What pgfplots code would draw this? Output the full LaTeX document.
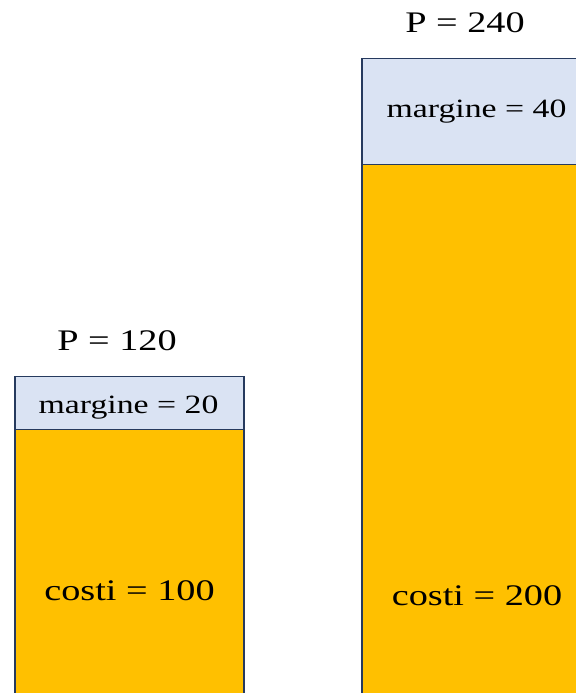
\documentclass[border=0pt]{standalone}
\usepackage{fontspec}
\setmainfont{Liberation Serif}
\usepackage{graphicx}
\usepackage{pgfplots}
\pgfplotsset{compat=1.18}

\definecolor{costo}{HTML}{FFC000}
\definecolor{margine}{HTML}{DAE3F3}
\definecolor{bordo}{HTML}{263A5E}

\newcommand{\etichetta}[2]{\fontsize{#1}{#1}\selectfont\scalebox{1.28}[1]{#2}}

\begin{document}
\begin{tikzpicture}
\begin{axis}[
    scale only axis,
    width=576bp, height=694.6bp,
    xmin=0, xmax=576,
    ymin=0, ymax=262.1,
    axis lines=none,
    ybar stacked,
    bar width=229, % in axis units
    clip=true,
]
% costi
\addplot[fill=costo, draw=bordo, line width=1.5bp] coordinates {(129.5,100) (476.5,200)};
% margine
\addplot[fill=margine, draw=bordo, line width=1.5bp] coordinates {(129.5,20) (476.5,40)};

% label positions
\coordinate (p1) at (axis cs:117,133.6);
\coordinate (p2) at (axis cs:465,253.6);
\coordinate (m1) at (axis cs:128.5,108.3);
\coordinate (m2) at (axis cs:476.5,220.0);
\coordinate (c1) at (axis cs:129.5,39.2);
\coordinate (c2) at (axis cs:477,37.4);
\coordinate (bl) at (axis cs:0,0.6);
\coordinate (tr) at (axis cs:576,262.1);
\end{axis}
\node at (p1) {\etichetta{30}{P = 120}};
\node at (p2) {\etichetta{30}{P = 240}};
\node at (m1) {\etichetta{26.5}{margine = 20}};
\node at (m2) {\etichetta{26.5}{margine = 40}};
\node at (c1) {\etichetta{30}{costi = 100}};
\node at (c2) {\etichetta{30}{costi = 200}};
\pgfresetboundingbox
\useasboundingbox (bl) rectangle (tr);
\end{tikzpicture}
\end{document}
